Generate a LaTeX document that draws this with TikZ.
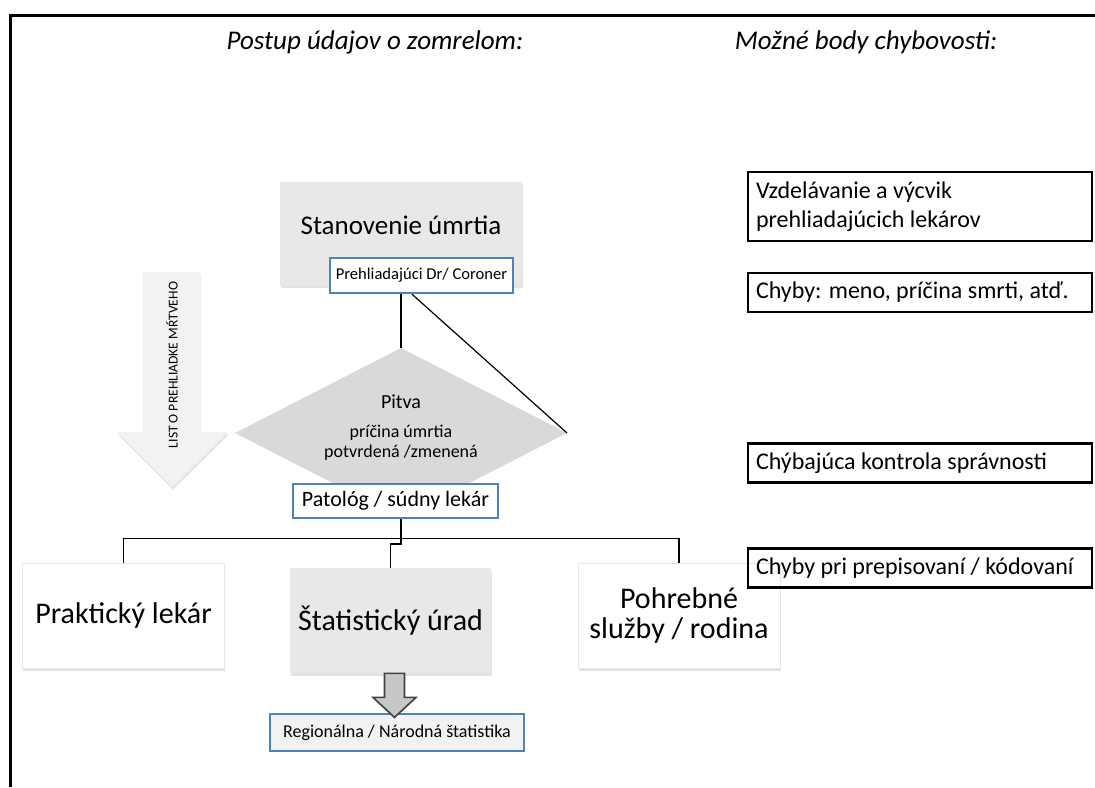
\documentclass[tikz,border=0pt]{standalone}
\usepackage{fontspec}
\setmainfont{Carlito}
\usepackage{tikz}
\usetikzlibrary{calc,shapes.geometric,shadows}
\colorlet{boxgray}{black!9}
\colorlet{pitvagray}{black!15}
\colorlet{arrowgray}{black!5}
\colorlet{tipgray}{black!22}
\colorlet{rimgray}{black!10}
\definecolor{rimblue}{HTML}{4F81BD}

\begin{document}
\begin{tikzpicture}[x=0.5pt,y=-0.5pt,
  softshadow/.style={drop shadow={opacity=0.22,shadow xshift=0.3pt,shadow yshift=-1.3pt}},
  bigbox/.style={softshadow,minimum width=101pt,minimum height=52.5pt,inner sep=0pt,align=center,font=\fontsize{15}{15}\selectfont},
  bluebox/.style={draw=rimblue,line width=1.2pt,fill=white,inner sep=0pt},
  errbox/.style={draw,line width=1.3pt,text width=164pt,inner xsep=4pt,minimum height=19.5pt,align=flush left,font=\fontsize{12}{14.5}\selectfont},
  conn/.style={line width=0.8pt}]
\useasboundingbox (0,0) rectangle (1095,787);
% frame
\draw[line width=1.5pt] (10,787) -- (10,15) -- (1095,15);
\node[font=\fontsize{13.5}{16}\selectfont\itshape] (flowtitle) at (375,42) {Postup údajov o zomrelom:};
\node[font=\fontsize{13.5}{16}\selectfont\itshape] (errtitle) at (866,42) {Možné body chybovosti:};

% flow
\node[softshadow,fill=boxgray,minimum width=121pt,minimum height=52pt] (stan) at (401,233.5) {};
\node[font=\fontsize{13.5}{16}\selectfont] (stantxt) at ($(stan.center)+(0,-8.5)$) {Stanovenie úmrtia};
\node[bluebox,minimum width=91.5pt,minimum height=17.5pt,font=\fontsize{8.3}{10}\selectfont] (prehl) at (421.5,275.5) {Prehliadajúci Dr/ Coroner};

\fill[arrowgray,softshadow] (143,272) -- (200,272) -- (200,432) -- (228,432) -- (172.5,487) -- (117,432) -- (143,432) -- cycle;
\node[rotate=90,font=\fontsize{6.8}{8}\selectfont] (listtxt) at (172,365) {LIST O PREHLIADKE MŔTVEHO};

\node[diamond,fill=pitvagray,minimum width=166pt,minimum height=85pt,inner sep=0pt,outer sep=0pt] (pitva) at (401,433) {};
\node[font=\fontsize{10}{12}\selectfont] (pitvatxt) at ($(pitva.center)+(0,-31)$) {Pitva};
\node[align=center,font=\fontsize{9}{10}\selectfont] (pricina) at ($(pitva.center)+(0,10)$) {príčina úmrtia\\potvrdená /zmenená};
\draw[conn] (prehl.south -| pitva.north) -- (pitva.north);
\draw[line width=0.6pt] ($(prehl.south)+(-9.5,0)$) -- (pitva.east);
\node[bluebox,minimum width=102.5pt,minimum height=17pt,font=\fontsize{11}{13}\selectfont] (pato) at (395.5,501) {Patológ / súdny lekár};

\node[bigbox,fill=white,draw=rimgray,line width=0.4pt] (prak) at (123.5,615.5) {Praktický lekár};
\node[bigbox,fill=boxgray,minimum width=100.5pt] (stat) at (390.5,620.5) {Štatistický úrad};
\node[bigbox,fill=white,draw=rimgray,line width=0.4pt] (pohr) at (679,615.5) {Pohrebné\\služby / rodina};

\coordinate (pfoot) at (pato.south -| pitva.north);
\draw[conn] (pfoot) -- ++(0,25) -| (stat.north);
\draw[conn] (prak.north) -- ++(0,-24) -| (pohr.north);

\node[bluebox,fill=arrowgray,minimum width=127pt,minimum height=18.5pt,font=\fontsize{9}{11}\selectfont] (regio) at (397,732.5) {Regionálna / Národná štatistika};
\filldraw[fill=tipgray,draw=black!75,line width=0.8pt] ($(stat.south)+(-6,0)$) -- ++(0,24) -- ++(-11.5,0) -- ($(stat.south)+(4,44)$) -- ++(21.5,-20) -- ++(-11.5,0) -- ++(0,-24) -- cycle;

% error points
\node[errbox,minimum height=34.5pt] (err1) at (920,206.5) {Vzdelávanie a výcvik\\prehliadajúcich lekárov};
\node[errbox] (err2) at (920,292.5) {Chyby: meno, príčina smrti, atď.};
\node[errbox] (err3) at (920,463) {Chýbajúca kontrola správnosti};
\node[errbox] (err4) at (920,568) {Chyby pri prepisovaní / kódovaní};
\end{tikzpicture}
\end{document}
